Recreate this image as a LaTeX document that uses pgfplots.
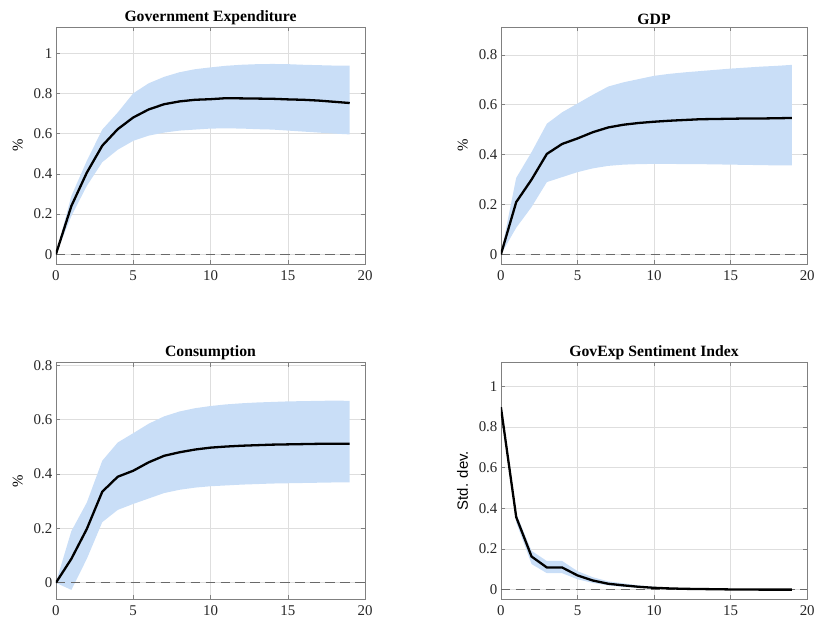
\documentclass[border=0pt]{standalone}
\usepackage{pgfplots}
\pgfplotsset{compat=1.18}
\usepackage{pgfplotstable}
\usepgfplotslibrary{fillbetween}
\usepackage{fontspec}
\setmainfont{Liberation Serif}
\newfontfamily\labelsans{Liberation Sans}

\definecolor{bandblue}{RGB}{201,222,247}
\definecolor{framegray}{RGB}{128,128,128}
\definecolor{gridgray}{RGB}{222,222,222}
\definecolor{zerogray}{RGB}{105,105,105}

% impulse responses: horizon, median, lower and upper bands
\pgfplotstableread{
t med lo hi
0 0 0 0
1 0.240 0.190 0.290
2 0.406 0.340 0.465
3 0.540 0.458 0.620
4 0.622 0.520 0.705
5 0.680 0.564 0.800
6 0.720 0.590 0.850
7 0.746 0.605 0.882
8 0.760 0.615 0.905
9 0.768 0.620 0.920
10 0.771 0.625 0.929
11 0.776 0.626 0.937
12 0.775 0.625 0.942
13 0.774 0.622 0.945
14 0.773 0.620 0.946
15 0.770 0.615 0.945
16 0.768 0.610 0.942
17 0.764 0.605 0.940
18 0.758 0.600 0.938
19 0.752 0.596 0.938
}\govexp

\pgfplotstableread{
t med lo hi
0 0 0 0
1 0.210 0.107 0.307
2 0.300 0.190 0.410
3 0.403 0.290 0.524
4 0.443 0.310 0.570
5 0.465 0.330 0.605
6 0.490 0.345 0.640
7 0.509 0.355 0.673
8 0.520 0.360 0.690
9 0.527 0.362 0.703
10 0.532 0.363 0.716
11 0.536 0.363 0.724
12 0.539 0.362 0.730
13 0.542 0.362 0.735
14 0.543 0.361 0.740
15 0.544 0.360 0.745
16 0.545 0.359 0.749
17 0.545 0.358 0.753
18 0.546 0.357 0.756
19 0.547 0.357 0.760
}\gdp

\pgfplotstableread{
t med lo hi
0 0 0 0
1 0.088 -0.026 0.190
2 0.198 0.088 0.295
3 0.335 0.223 0.449
4 0.390 0.268 0.516
5 0.412 0.290 0.550
6 0.443 0.310 0.585
7 0.467 0.330 0.612
8 0.480 0.342 0.630
9 0.490 0.350 0.642
10 0.497 0.355 0.650
11 0.501 0.358 0.656
12 0.504 0.361 0.660
13 0.506 0.363 0.663
14 0.508 0.365 0.665
15 0.509 0.366 0.667
16 0.510 0.367 0.668
17 0.511 0.368 0.669
18 0.511 0.369 0.670
19 0.511 0.369 0.669
}\cons

\pgfplotstableread{
t med lo hi
0 0.897 0.890 0.902
1 0.356 0.330 0.372
2 0.162 0.125 0.190
3 0.108 0.080 0.140
4 0.108 0.080 0.140
5 0.069 0.050 0.090
6 0.044 0.032 0.060
7 0.028 0.020 0.040
8 0.020 0.012 0.030
9 0.013 0.008 0.020
10 0.008 0.004 0.013
11 0.005 0.002 0.008
12 0.003 0.001 0.005
13 0.002 0.000 0.003
14 0.001 0.000 0.002
15 0.000 -0.001 0.001
16 0.000 -0.001 0.001
17 -0.001 -0.002 0.000
18 -0.001 -0.002 0.000
19 -0.001 -0.002 0.000
}\sentiment

\pgfplotsset{
  irf/.style={
    scale only axis,
    width=310bp, height=238bp,
    anchor=south west,
    xmin=0, xmax=20,
    xtick={0,5,10,15,20},
    axis line style={framegray, line width=0.6bp},
    every tick/.style={framegray, line width=0.6bp},
    major tick length=4bp,
    tick align=inside,
    grid=major,
    major grid style={gridgray, line width=0.6bp},
    tick label style={font=\fontsize{15}{17}\selectfont, text=black!85},
    xticklabel style={yshift=-3bp},
    /pgf/number format/assume math mode=true,
    yticklabel style={/pgf/number format/fixed},
    title style={font=\bfseries\fontsize{15.8}{18}\selectfont, yshift=-7bp},
    ylabel style={font=\fontsize{15}{17}\selectfont, yshift=4bp},
  },
}

\newcommand{\irfplot}[1]{%
  \addplot[name path=hi, draw=none, forget plot] table[x=t, y=hi] {#1};
  \addplot[name path=lo, draw=none, forget plot] table[x=t, y=lo] {#1};
  \addplot[bandblue, draw=none] fill between[of=hi and lo];
  \addplot[zerogray, line width=1bp, dash pattern=on 9.5bp off 5.5bp] coordinates {(0,0) (20,0)};
  \addplot[black, line width=2.3bp] table[x=t, y=med] {#1};
}

\begin{document}
\begin{tikzpicture}

\begin{axis}[irf, at={(56bp,360bp)},
  ymin=-0.05, ymax=1.13, ytick={0,0.2,...,1},
  title={Government Expenditure}, ylabel={\%}]
  \irfplot{\govexp}
\end{axis}

\begin{axis}[irf, at={(502bp,360bp)}, width=307bp,
  ymin=-0.04, ymax=0.912, ytick={0,0.2,...,0.8},
  title={GDP}, ylabel={\%}]
  \irfplot{\gdp}
\end{axis}

\begin{axis}[irf, at={(56bp,24.3bp)}, height=237.4bp,
  ymin=-0.061, ymax=0.81, ytick={0,0.2,...,0.8},
  title={Consumption}, ylabel={\%}]
  \irfplot{\cons}
\end{axis}

\begin{axis}[irf, at={(502bp,24.3bp)}, width=307bp, height=238bp,
  ymin=-0.049, ymax=1.12, ytick={0,0.2,...,1},
  title={GovExp Sentiment Index},
  ylabel={\labelsans Std. dev.}]
  \irfplot{\sentiment}
\end{axis}

% page frame
\path (0,0) rectangle (818bp,625bp);
\end{tikzpicture}
\end{document}
